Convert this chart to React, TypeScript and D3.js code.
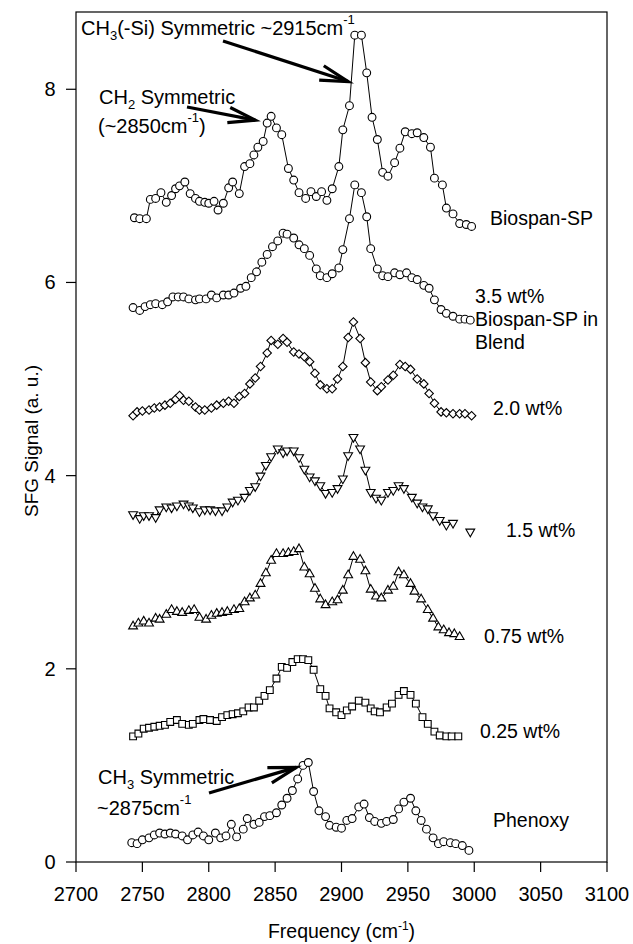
import React from "react";
import * as d3 from "d3";

type Pt = [number, number | null];

const xTicks = [2700, 2750, 2800, 2850, 2900, 2950, 3000, 3050, 3100];
const yTicks = [0, 2, 4, 6, 8];

const biospanSP: Pt[] = [
  [2744, 6.67], [2748, 6.66], [2753, 6.66], [2756, 6.86], [2760, 6.87], [2764, 6.93], [2768, 6.83],
  [2772, 6.9], [2775, 6.97], [2778, 7.0], [2782, 7.04], [2786, 6.92], [2790, 6.87], [2793, 6.84],
  [2797, 6.83], [2800, 6.82], [2804, 6.84], [2807, 6.75], [2811, 6.82], [2815, 6.98], [2818, 7.04],
  [2823, 6.92], [2827, 7.2], [2831, 7.23], [2834, 7.32], [2837, 7.4], [2841, 7.46], [2844, 7.65],
  [2847, 7.72], [2851, 7.6], [2855, 7.53], [2860, 7.18], [2864, 7.06], [2868, 6.93], [2873, 6.87],
  [2877, 6.94], [2881, 6.89], [2885, 6.94], [2889, 6.85], [2893, 6.97], [2898, 7.2], [2901, 7.58],
  [2906, 7.83], [2910, 8.56], [2915, 8.56], [2919, 8.17], [2923, 7.71], [2927, 7.48], [2931, 7.14],
  [2935, 7.1], [2940, 7.24], [2944, 7.39], [2948, 7.56], [2953, 7.54], [2957, 7.55], [2962, 7.5],
  [2967, 7.4], [2970, 7.08], [2976, 7.01], [2979, 6.77], [2984, 6.71], [2989, 6.61], [2994, 6.6],
  [2998, 6.58],
];

const blend35: Pt[] = [
  [2743, 5.74], [2748, 5.71], [2752, 5.75], [2756, 5.77], [2760, 5.78], [2765, 5.77], [2769, 5.8],
  [2773, 5.85], [2777, 5.85], [2781, 5.85], [2785, 5.83], [2790, 5.82], [2793, 5.83], [2798, 5.83],
  [2802, 5.87], [2806, 5.84], [2811, 5.87], [2815, 5.87], [2819, 5.89], [2824, 5.94], [2828, 5.96],
  [2832, 6.05], [2836, 6.11], [2840, 6.21], [2844, 6.29], [2848, 6.37], [2852, 6.43], [2856, 6.51],
  [2859, 6.5], [2864, 6.46], [2868, 6.39], [2872, 6.35], [2876, 6.28], [2881, 6.14], [2884, 6.07],
  [2889, 6.05], [2893, 6.09], [2898, 6.15], [2901, 6.34], [2906, 6.66], [2910, 7.01], [2915, 6.93],
  [2919, 6.68], [2922, 6.35], [2927, 6.14], [2931, 6.07], [2935, 6.06], [2940, 6.1], [2944, 6.08],
  [2949, 6.1], [2953, 6.05], [2957, 6.03], [2962, 5.97], [2966, 5.94], [2970, 5.82], [2975, 5.72],
  [2979, 5.68], [2984, 5.65], [2989, 5.62], [2993, 5.62], [2997, 5.61],
];

const blend20: Pt[] = [
  [2743, 4.62], [2746, 4.66], [2750, 4.67], [2755, 4.68], [2759, 4.7], [2763, 4.71], [2767, 4.73],
  [2771, 4.75], [2775, 4.79], [2778, 4.83], [2781, 4.78], [2785, 4.77], [2790, 4.71], [2793, 4.68],
  [2797, 4.68], [2802, 4.7], [2806, 4.73], [2811, 4.75], [2815, 4.77], [2819, 4.75], [2823, 4.82],
  [2827, 4.85], [2831, 4.95], [2835, 5.01], [2839, 5.13], [2844, 5.27], [2847, 5.4], [2852, 5.36],
  [2856, 5.42], [2859, 5.38], [2864, 5.28], [2868, 5.26], [2872, 5.23], [2876, 5.18], [2880, 5.06],
  [2884, 4.94], [2889, 4.9], [2893, 4.9], [2897, 5.0], [2901, 5.13], [2905, 5.43], [2909, 5.59],
  [2914, 5.42], [2918, 5.17], [2922, 4.97], [2927, 4.88], [2930, 4.92], [2935, 4.99], [2939, 5.04],
  [2944, 5.15], [2948, 5.13], [2952, 5.1], [2957, 5.0], [2962, 4.95], [2966, 4.85], [2970, 4.75],
  [2975, 4.66], [2979, 4.65], [2984, 4.64], [2989, 4.64], [2993, 4.64], [2998, 4.62],
];

const blend15: Pt[] = [
  [2743, 3.6], [2748, 3.56], [2751, 3.59], [2755, 3.59], [2760, 3.57], [2763, 3.65], [2768, 3.68],
  [2772, 3.67], [2776, 3.69], [2781, 3.71], [2785, 3.69], [2788, 3.67], [2793, 3.63], [2797, 3.65],
  [2801, 3.65], [2805, 3.64], [2810, 3.64], [2814, 3.68], [2818, 3.73], [2822, 3.75], [2827, 3.78],
  [2831, 3.85], [2835, 3.89], [2839, 4.0], [2843, 4.11], [2847, 4.2], [2852, 4.28], [2856, 4.24],
  [2859, 4.26], [2864, 4.26], [2868, 4.19], [2872, 4.07], [2876, 3.99], [2880, 3.95], [2884, 3.9],
  [2888, 3.82], [2893, 3.83], [2897, 3.87], [2901, 3.97], [2905, 4.21], [2909, 4.4], [2914, 4.28],
  [2918, 4.06], [2922, 3.83], [2926, 3.77], [2930, 3.75], [2935, 3.83], [2939, 3.85], [2943, 3.9],
  [2947, 3.87], [2953, 3.78], [2957, 3.72], [2961, 3.68], [2965, 3.66], [2969, 3.59], [2974, 3.54],
  [2979, 3.49], [2984, 3.51], [2990, null], [2997, 3.42],
];

const blend075: Pt[] = [
  [2743, 2.44], [2747, 2.47], [2751, 2.49], [2755, 2.47], [2760, 2.52], [2763, 2.51], [2768, 2.56],
  [2772, 2.61], [2776, 2.59], [2780, 2.58], [2785, 2.6], [2789, 2.61], [2793, 2.53], [2798, 2.51],
  [2802, 2.55], [2806, 2.57], [2810, 2.58], [2814, 2.59], [2819, 2.61], [2823, 2.62], [2827, 2.69],
  [2831, 2.73], [2835, 2.76], [2839, 2.88], [2843, 2.99], [2847, 3.12], [2851, 3.19], [2856, 3.19],
  [2860, 3.2], [2864, 3.21], [2868, 3.24], [2872, 3.05], [2876, 2.98], [2880, 2.83], [2884, 2.72],
  [2888, 2.66], [2893, 2.69], [2897, 2.71], [2901, 2.81], [2905, 2.97], [2909, 3.16], [2914, 3.13],
  [2918, 3.01], [2922, 2.82], [2926, 2.75], [2930, 2.73], [2935, 2.81], [2939, 2.85], [2943, 3.0],
  [2947, 2.97], [2952, 2.88], [2955, 2.8], [2960, 2.72], [2965, 2.61], [2969, 2.52], [2973, 2.43],
  [2977, 2.4], [2981, 2.37], [2985, 2.36], [2989, 2.33],
];

const blend025: Pt[] = [
  [2743, 1.3], [2747, 1.33], [2751, 1.38], [2755, 1.39], [2759, 1.4], [2763, 1.41], [2767, 1.42],
  [2771, 1.45], [2776, 1.47], [2780, 1.43], [2785, 1.42], [2788, 1.43], [2793, 1.47], [2796, 1.48],
  [2801, 1.47], [2806, 1.46], [2810, 1.5], [2814, 1.52], [2818, 1.53], [2822, 1.54], [2826, 1.56],
  [2830, 1.6], [2834, 1.6], [2838, 1.67], [2842, 1.72], [2846, 1.78], [2851, 1.9], [2855, 2.02],
  [2859, 2.01], [2863, 2.07], [2867, 2.1], [2871, 2.1], [2875, 2.09], [2879, 1.99], [2884, 1.79],
  [2888, 1.72], [2891, 1.59], [2896, 1.55], [2900, 1.52], [2904, 1.57], [2908, 1.61], [2913, 1.67],
  [2918, 1.65], [2922, 1.59], [2925, 1.56], [2929, 1.55], [2934, 1.6], [2938, 1.64], [2943, 1.73],
  [2947, 1.77], [2952, 1.73], [2956, 1.64], [2961, 1.5], [2965, 1.43], [2970, 1.35], [2974, 1.31],
  [2979, 1.3], [2983, 1.3], [2988, 1.3],
];

const phenoxy: Pt[] = [
  [2742, 0.2], [2746, 0.19], [2750, 0.23], [2755, 0.25], [2759, 0.28], [2763, 0.3], [2767, 0.29],
  [2771, 0.3], [2775, 0.29], [2780, 0.27], [2784, 0.23], [2788, 0.28], [2792, 0.31], [2796, 0.27],
  [2800, 0.23], [2805, 0.3], [2809, 0.25], [2813, 0.27], [2817, 0.39], [2821, 0.26], [2826, 0.34],
  [2829, 0.45], [2834, 0.39], [2838, 0.41], [2842, 0.47], [2846, 0.48], [2851, 0.51], [2855, 0.59],
  [2859, 0.66], [2863, 0.74], [2867, 0.86], [2871, 1.0], [2875, 1.03], [2879, 0.73], [2883, 0.53],
  [2888, 0.47], [2891, 0.38], [2896, 0.36], [2900, 0.35], [2904, 0.43], [2908, 0.45], [2913, 0.57],
  [2917, 0.6], [2921, 0.46], [2925, 0.42], [2930, 0.4], [2934, 0.42], [2939, 0.44], [2943, 0.55],
  [2947, 0.62], [2952, 0.66], [2956, 0.53], [2960, 0.43], [2964, 0.34], [2969, 0.25], [2973, 0.19],
  [2977, 0.21], [2982, 0.2], [2986, 0.19], [2991, 0.17], [2996, 0.12],
];

const seriesData = [biospanSP, blend35, blend20, blend15, blend075, blend025, phenoxy];
const seriesSymbols = ["circle", "circle", "diamond", "triDown", "triUp", "square", "circle"];
const seriesLabels = [
  ["Biospan-SP"],
  ["3.5 wt%", "Biospan-SP in", "Blend"],
  ["2.0 wt%"],
  ["1.5 wt%"],
  ["0.75 wt%"],
  ["0.25 wt%"],
  ["Phenoxy"],
];

const FONT = "'Liberation Sans', Arial, Helvetica, sans-serif";

export default function App() {
  const x = d3.scaleLinear().domain([2700, 3100]).range([76, 607]);
  const y = d3.scaleLinear().domain([0, 8.8]).range([862, 12]);

  const line = d3
    .line<Pt>()
    .defined((d) => d[1] != null)
    .x((d) => x(d[0]))
    .y((d) => y(d[1] as number));

  const symPath = (kind: string) => {
    switch (kind) {
      case "circle":
        return d3.symbol(d3.symbolCircle, 48)()!;
      case "square":
        return d3.symbol(d3.symbolSquare, 46)()!;
      case "diamond":
        return d3.symbol(d3.symbolSquare, 36)()!;
      case "triUp":
        return d3.symbol(d3.symbolTriangle, 34)()!;
      case "triDown":
        return d3.symbol(d3.symbolTriangle, 34)()!;
    }
    return "";
  };
  const symRot = (kind: string) => (kind === "diamond" ? 45 : kind === "triDown" ? 180 : 0);

  const labelPos: [number, number][] = [
    [490, 225],
    [475, 303],
    [493, 415],
    [506, 537],
    [484, 643],
    [480, 738],
    [493, 827],
  ];

  const arrow = (x1: number, y1: number, x2: number, y2: number, len: number, ang: number) => {
    const a = Math.atan2(y2 - y1, x2 - x1);
    const r = (ang * Math.PI) / 180;
    const p1 = [x2 - len * Math.cos(a - r), y2 - len * Math.sin(a - r)];
    const p2 = [x2 - len * Math.cos(a + r), y2 - len * Math.sin(a + r)];
    return (
      <g stroke="#000" strokeWidth={3.2} fill="none" strokeLinecap="butt">
        <line x1={x1} y1={y1} x2={x2} y2={y2} />
        <polyline points={`${p1[0]},${p1[1]} ${x2},${y2} ${p2[0]},${p2[1]}`} />
      </g>
    );
  };

  return (
    <svg
      width={633}
      height={944}
      style={{ position: "absolute", left: 0, top: 0, background: "#fff" }}
      fontFamily={FONT}
    >
      <rect x={0} y={0} width={633} height={944} fill="#fff" />
      {/* frame */}
      <rect x={76} y={12} width={531} height={850} fill="none" stroke="#000" strokeWidth={1.2} />
      {/* x ticks */}
      {xTicks.map((t) => (
        <g key={"xt" + t}>
          <line x1={x(t)} x2={x(t)} y1={862} y2={872} stroke="#000" strokeWidth={1.2} />
          <text x={x(t)} y={900.5} textAnchor="middle" fontSize={20}>
            {t}
          </text>
        </g>
      ))}
      {yTicks.map((t) => (
        <g key={"yt" + t}>
          <line x1={66} x2={76} y1={y(t)} y2={y(t)} stroke="#000" strokeWidth={1.2} />
          <text x={55.5} y={y(t) + 7} textAnchor="end" fontSize={20}>
            {t}
          </text>
        </g>
      ))}
      <text x={341.5} y={938} textAnchor="middle" fontSize={19.5}>
        Frequency (cm
        <tspan dy={-8} fontSize={12}>-1</tspan>
        <tspan dy={8}>)</tspan>
      </text>
      <text transform="translate(37.5,441) rotate(-90)" textAnchor="middle" fontSize={19}>
        SFG Signal (a. u.)
      </text>

      {/* series */}
      {seriesData.map((data, i) => (
        <g key={"s" + i}>
          <path d={line(data) || ""} fill="none" stroke="#000" strokeWidth={1} />
          {data
            .filter((d) => d[1] != null)
            .map((d, j) => (
              <path
                key={j}
                d={symPath(seriesSymbols[i])}
                transform={`translate(${x(d[0])},${y(d[1] as number)}) rotate(${symRot(seriesSymbols[i])})`}
                fill="#fff"
                stroke="#000"
                strokeWidth={1.1}
              />
            ))}
        </g>
      ))}

      {/* series labels */}
      {seriesLabels.map((lines, i) => (
        <text key={"l" + i} x={labelPos[i][0]} y={labelPos[i][1]} fontSize={19.5}>
          {lines.map((s, k) => (
            <tspan key={k} x={labelPos[i][0]} dy={k === 0 ? 0 : 23}>
              {s}
            </tspan>
          ))}
        </text>
      ))}

      {/* annotations */}
      <text x={81} y={35} fontSize={20}>
        CH<tspan dy={5} fontSize={13}>3</tspan>
        <tspan dy={-5}>(-Si) Symmetric ~2915cm</tspan>
        <tspan dy={-11} fontSize={13}>-1</tspan>
      </text>
      {arrow(223, 41, x(2905), y(8.08), 29, 15)}

      <text x={99} y={104} fontSize={20}>
        CH<tspan dy={5} fontSize={13}>2</tspan>
        <tspan dy={-5}> Symmetric</tspan>
      </text>
      <text x={98} y={133} fontSize={20}>
        (~2850cm<tspan dy={-11} fontSize={13}>-1</tspan>
        <tspan dy={11}>)</tspan>
      </text>
      {arrow(187, 107, x(2835), y(7.68), 28, 16)}

      <text x={98} y={784} fontSize={20}>
        CH<tspan dy={5} fontSize={13}>3</tspan>
        <tspan dy={-5}> Symmetric</tspan>
      </text>
      <text x={97} y={815} fontSize={20}>
        ~2875cm<tspan dy={-11} fontSize={13}>-1</tspan>
      </text>
      {arrow(209, 793, x(2866), y(0.98), 29, 16)}
    </svg>
  );
}
